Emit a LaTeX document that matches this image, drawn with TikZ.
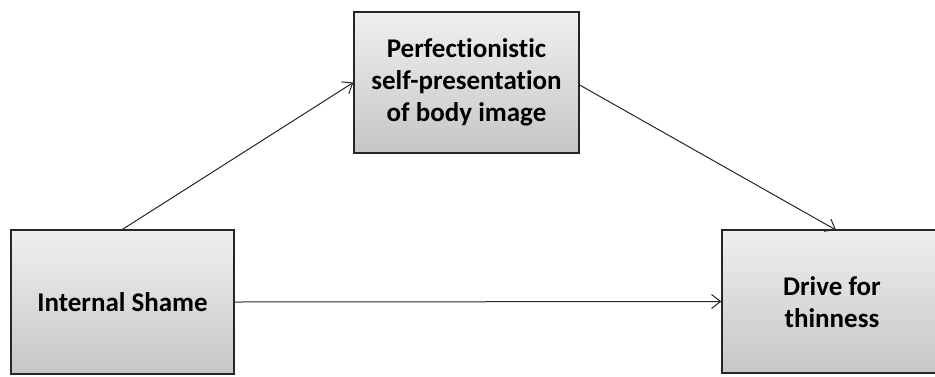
\documentclass[tikz,border=0pt]{standalone}
\usepackage{fontspec}
\setmainfont[RawFeature={-liga;-clig;-dlig}]{Carlito}
\usetikzlibrary{arrows.meta}
\begin{document}
\begin{tikzpicture}[x=1pt,y=-1pt,
  txt/.style={font=\fontsize{27}{32}\selectfont\bfseries, align=center, inner sep=0pt},
  box/.style={txt, draw=black!85, line width=1.3pt, top color=gray!12, bottom color=gray!45},
  conn/.style={line width=1pt, draw=black!85, -{Straight Barb[length=9pt,width=14pt,line width=1pt]}}]
\useasboundingbox (0,0) rectangle (935,376);
\begin{scope}
\clip (0,0) rectangle (935,376);
\node[box, minimum width=225pt, minimum height=141pt] (top) at (466.5,82.5) {Perfectionistic\\self-presentation\\of body image};
\node[box, minimum width=223pt, minimum height=144pt] (left) at (122.5,302) {Internal Shame};
\node[box, minimum width=218pt, minimum height=143pt] (right) at (831,301.5) {};
\node[txt] (rtext) at (832,302.5) {Drive for\\thinness};
\end{scope}
\coordinate (b1) at (579,85);
\coordinate (b2) at (836,230);
\draw[conn] (left.north) -- (top.west);
\draw[conn] (top.east |- b1) -- (b2);
\draw[conn] (left.east) -- (right.west);
\end{tikzpicture}
\end{document}
